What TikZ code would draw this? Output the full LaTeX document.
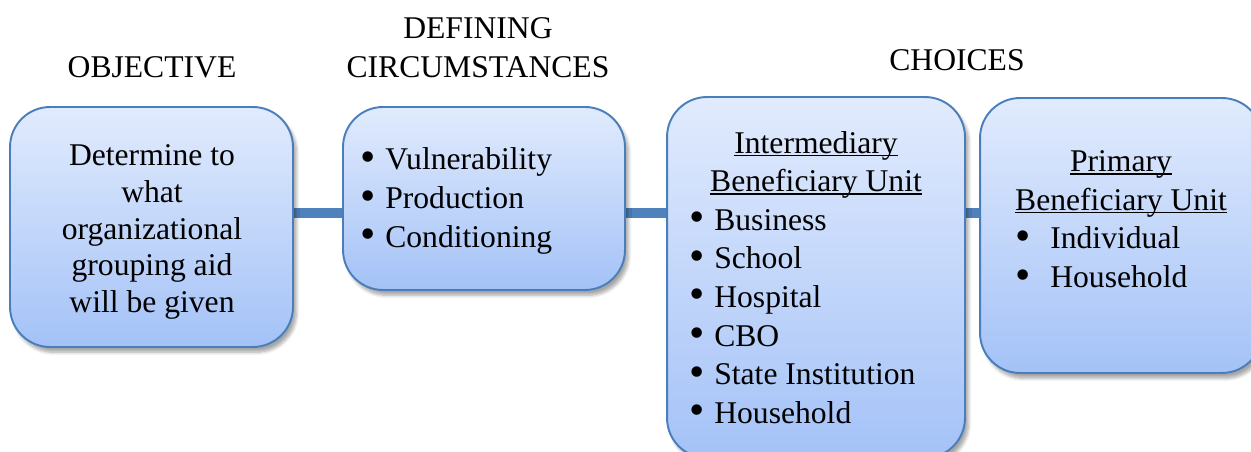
\documentclass[tikz,border=0pt]{standalone}
\usepackage{fontspec}
\usepackage{graphicx}
\setmainfont{Liberation Serif}
\usetikzlibrary{shadows.blur,backgrounds}

\definecolor{boxtop}{HTML}{E1EBFD}
\definecolor{boxbot}{HTML}{A4C2F7}
\definecolor{boxline}{HTML}{4A7EBB}
\definecolor{linkblue}{HTML}{4F81BD}

% big bullet in a box of given width
\newcommand{\bul}[1]{\makebox[#1][l]{\raisebox{-0.9pt}{\scalebox{1.38}{\textbullet}}}}
% underline close to the baseline
\newcommand{\ulword}[1]{\setbox0\hbox{#1}\rlap{\rule[-1.6pt]{\wd0}{0.75pt}}#1}

\begin{document}
\begin{tikzpicture}[x=0.02cm,y=-0.02cm,
    unit box/.style={draw=boxline,line width=1.1pt,rounded corners=0.8cm,
        top color=boxtop,bottom color=boxbot,
        blur shadow={shadow xshift=2pt,shadow yshift=-3pt,shadow blur steps=6,shadow opacity=35}},
    head/.style={font=\fontsize{18}{22}\selectfont,align=center,inner sep=0pt},
    body/.style={font=\fontsize{18}{22}\selectfont,inner sep=0pt},
    link/.style={linkblue,line width=0.19cm}]
    \useasboundingbox (0,0) rectangle (1251,452);

    % column titles
    \node[head] (objtitle) at (152,67) {OBJECTIVE};
    \node[head] (circtitle) at (478,48) {DEFINING\\CIRCUMSTANCES};
    \node[head] (choicetitle) at (957,60) {CHOICES};

    % boxes
    \node[unit box,minimum width=5.66cm,minimum height=4.8cm] (obj) at (151.5,227) {};
    \node[unit box,minimum width=5.64cm,minimum height=3.66cm] (circ) at (484,198.5) {};
    \node[unit box,minimum width=5.96cm,minimum height=7.22cm] (inter) at (816,277.5) {};
    \node[unit box,minimum width=5.64cm,minimum height=5.5cm] (prim) at (1121,235.5) {};

    % bars between the boxes
    \coordinate (bar) at (0,213);
    \begin{scope}[on background layer]
        \draw[link] (obj.east |- bar) -- (circ.west |- bar);
        \draw[link] (circ.east |- bar) -- (inter.west |- bar);
        \draw[link] (inter.east |- bar) -- (prim.west |- bar);
    \end{scope}

    % texts
    \node[body,align=center,font=\fontsize{18}{21}\selectfont] (objtext) at (152,232) {Determine to\\what\\organizational\\grouping aid\\will be given};
    \node[body,align=left,anchor=west] (circtext) at (360,201) {\bul{14.2pt}Vulnerability\\\bul{14.2pt}Production\\\bul{14.2pt}Conditioning};
    \node[body,align=center] (interhead) at (816,165) {\ulword{Intermediary}\\\ulword{Beneficiary Unit}};
    \node[body,align=left,anchor=west] (interlist) at (689,317) {\bul{14.2pt}Business\\\bul{14.2pt}School\\\bul{14.2pt}Hospital\\\bul{14.2pt}CBO\\\bul{14.2pt}State Institution\\\bul{14.2pt}Household};
    \node[body,align=center] (primhead) at (1121,184) {\ulword{Primary}\\\ulword{Beneficiary Unit}};
    \node[body,align=left,anchor=west] (primlist) at (1015,258) {\bul{19.9pt}Individual\\\bul{19.9pt}Household};
\end{tikzpicture}
\end{document}
